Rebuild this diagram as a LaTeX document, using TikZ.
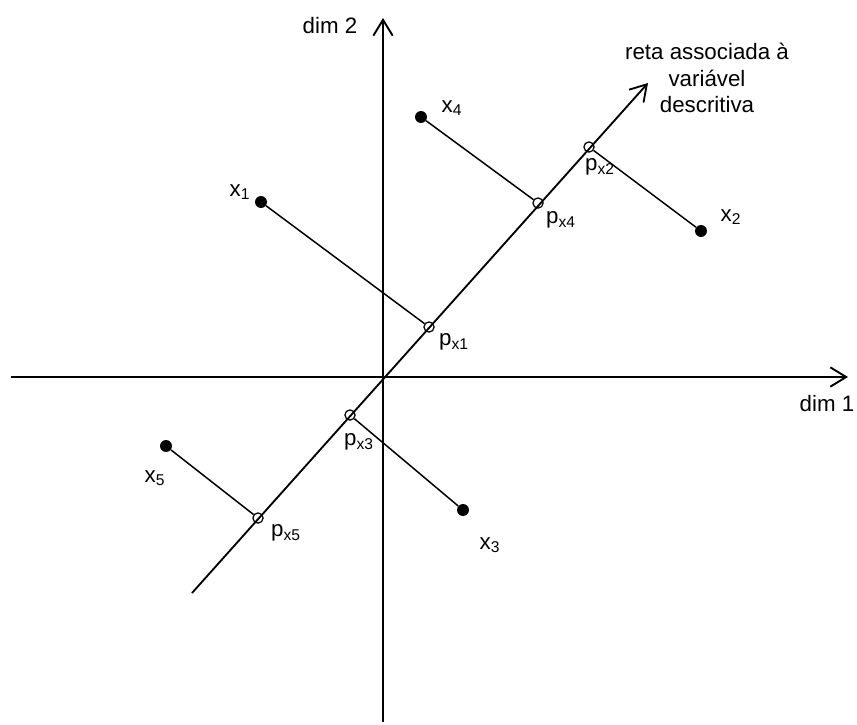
\documentclass[tikz,border=0pt]{standalone}
\usepackage{fontspec}
\setmainfont{Liberation Sans}
\usetikzlibrary{arrows.meta}

\tikzset{
  lbl/.style={inner sep=0pt,font=\fontsize{12.7}{15.3}\selectfont},
  obs/.style={circle,fill,inner sep=0pt,minimum size=6.8pt},
  proj/.style={circle,draw,line width=0.7pt,inner sep=0pt,minimum size=5.8pt},
  seg/.style={line width=0.85pt},
}

\begin{document}
\begin{tikzpicture}[>={Straight Barb[length=9pt,width=11pt]},x=0.02cm,y=-0.02cm]
  \useasboundingbox (0,0) rectangle (857,724);
  % axes
  \coordinate (xl) at (11,377);
  \coordinate (xr) at (848,377);
  \coordinate (yb) at (383,722);
  \coordinate (yt) at (383,18);
  \draw[->,line width=1.1pt] (xl) -- (xr);
  \draw[->,line width=1.1pt] (yb) -- (yt);
  \node[lbl] (dimA) at (827,404) {dim 1};
  \node[lbl] (dimB) at (330,26) {dim 2};
  % line of the descriptive variable
  \coordinate (rs) at (192,593);
  \coordinate (re) at (648,83);
  \draw[->,line width=1.05pt] (rs) -- (re);
  \node[lbl,align=center] (reta) at (707,78) {reta associada à\\variável\\descritiva};
  % observations (filled) and their projections (open)
  \node[obs] (x1) at (261,202) {};
  \node[obs] (x2) at (701,231) {};
  \node[obs] (x3) at (463,510) {};
  \node[obs] (x4) at (421,117) {};
  \node[obs] (x5) at (166,446) {};
  \node[proj] (p1) at (429,327) {};
  \node[proj] (p2) at (589,147) {};
  \node[proj] (p3) at (350,415) {};
  \node[proj] (p4) at (538,203) {};
  \node[proj] (p5) at (258,518) {};
  \draw[seg] (x1) -- (p1);
  \draw[seg] (x2) -- (p2);
  \draw[seg] (x3) -- (p3);
  \draw[seg] (x4) -- (p4);
  \draw[seg] (x5) -- (p5);
  % labels
  \node[lbl] (lx1) at (240,192) {x\textsubscript{1}};
  \node[lbl] (lx2) at (731,217) {x\textsubscript{2}};
  \node[lbl] (lx3) at (490,545) {x\textsubscript{3}};
  \node[lbl] (lx4) at (452,108) {x\textsubscript{4}};
  \node[lbl] (lx5) at (155,478) {x\textsubscript{5}};
  \node[lbl] (lp1) at (454,342) {p\textsubscript{x1}};
  \node[lbl] (lp2) at (600,167) {p\textsubscript{x2}};
  \node[lbl] (lp3) at (359,442) {p\textsubscript{x3}};
  \node[lbl] (lp4) at (561,220) {p\textsubscript{x4}};
  \node[lbl] (lp5) at (286,533) {p\textsubscript{x5}};
\end{tikzpicture}
\end{document}
